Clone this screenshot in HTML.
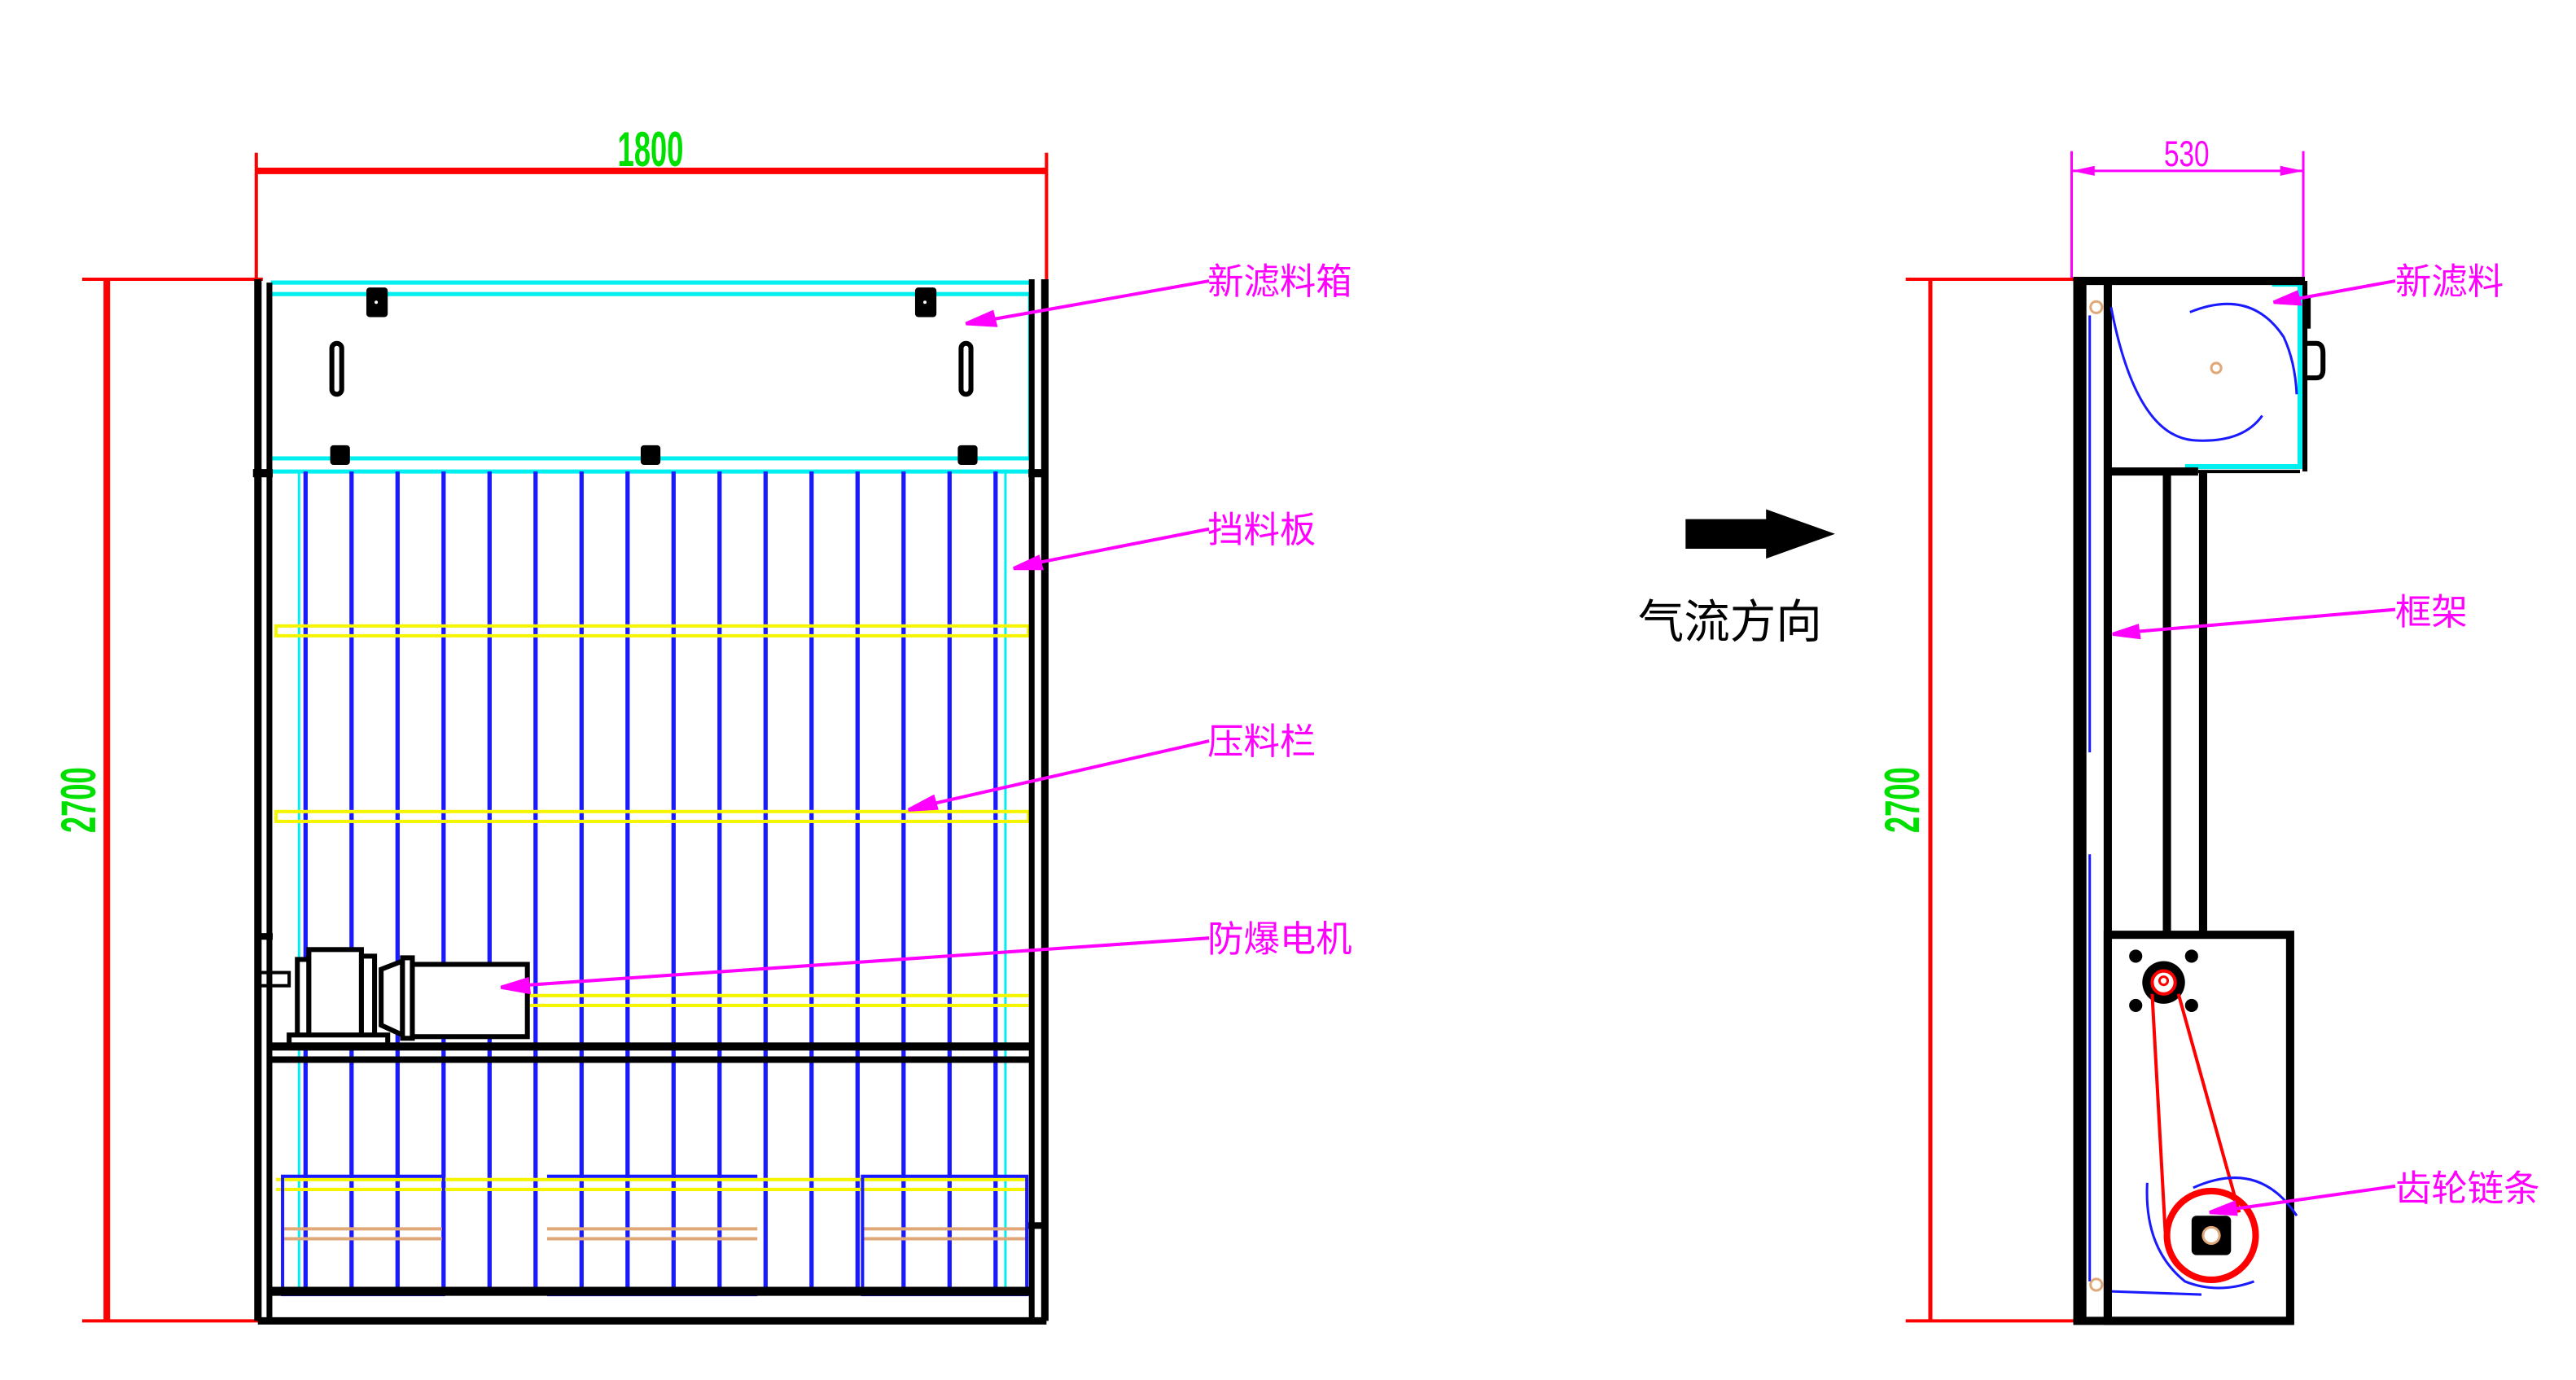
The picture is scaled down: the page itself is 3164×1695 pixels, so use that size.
<!DOCTYPE html>
<html><head><meta charset="utf-8"><style>
html,body{margin:0;padding:0;background:#fff;}
svg{display:block;}
.lbl{font-family:"Liberation Sans","Noto Sans CJK SC",sans-serif;fill:#ff00ff;font-size:22px;}
</style></head><body>
<svg width="3164" height="1695" viewBox="0 0 1568 840" preserveAspectRatio="none" xmlns="http://www.w3.org/2000/svg">
<rect width="1568" height="840" fill="#fff"/>
<g stroke="#f00" fill="none">
<line x1="156" y1="93" x2="156" y2="172" stroke-width="2"/>
<line x1="637" y1="93" x2="637" y2="172" stroke-width="2"/>
<line x1="156" y1="104" x2="637" y2="104" stroke-width="4"/>
<line x1="50" y1="170" x2="160" y2="170" stroke-width="2"/>
<line x1="50" y1="804" x2="160" y2="804" stroke-width="2"/>
<line x1="65" y1="170" x2="65" y2="804" stroke-width="4"/>
</g>
<text x="396" y="101" text-anchor="middle" font-family="Liberation Sans,sans-serif" font-weight="bold" font-size="30" fill="#00e000" transform="translate(396 0) scale(0.6 1) translate(-396 0)">1800</text>
<text x="0" y="0" text-anchor="middle" font-family="Liberation Sans,sans-serif" font-weight="bold" font-size="30" fill="#00e000" transform="translate(58 487) rotate(-90) scale(0.6 1)">2700</text>
<g stroke="#00f0f0" stroke-width="2.5" fill="none">
<line x1="165" y1="172" x2="628" y2="172"/>
<line x1="165" y1="179" x2="628" y2="179"/>
<line x1="165" y1="279" x2="627" y2="279"/>
<line x1="165" y1="287" x2="627" y2="287"/>
<line x1="627" y1="179" x2="627" y2="279"/>
<line x1="182" y1="287" x2="182" y2="786" stroke-width="1.5"/>
<line x1="612" y1="287" x2="612" y2="786" stroke-width="1.5"/>
</g>
<g stroke="#1a1aff" stroke-width="2.6">
<line x1="186" y1="287" x2="186" y2="788"/><line x1="214" y1="287" x2="214" y2="788"/>
<line x1="242" y1="287" x2="242" y2="788"/><line x1="270" y1="287" x2="270" y2="788"/>
<line x1="298" y1="287" x2="298" y2="788"/><line x1="326" y1="287" x2="326" y2="788"/>
<line x1="354" y1="287" x2="354" y2="788"/><line x1="382" y1="287" x2="382" y2="788"/>
<line x1="410" y1="287" x2="410" y2="788"/><line x1="438" y1="287" x2="438" y2="788"/>
<line x1="466" y1="287" x2="466" y2="788"/><line x1="494" y1="287" x2="494" y2="788"/>
<line x1="522" y1="287" x2="522" y2="788"/><line x1="550" y1="287" x2="550" y2="788"/>
<line x1="578" y1="287" x2="578" y2="788"/><line x1="606" y1="287" x2="606" y2="788"/>
</g>
<g stroke="#f5f500" stroke-width="2" fill="none">
<rect x="168" y="381" width="458" height="6"/>
<rect x="168" y="494" width="458" height="6"/>
<line x1="322" y1="606" x2="626" y2="606"/><line x1="322" y1="612" x2="626" y2="612"/>
<line x1="168" y1="718" x2="626" y2="718"/><line x1="168" y1="724" x2="626" y2="724"/>
</g>
<g stroke="#e0a878" stroke-width="2">
<line x1="172" y1="748" x2="270" y2="748"/><line x1="172" y1="754" x2="270" y2="754"/>
<line x1="333" y1="748" x2="461" y2="748"/><line x1="333" y1="754" x2="461" y2="754"/>
<line x1="525" y1="748" x2="626" y2="748"/><line x1="525" y1="754" x2="626" y2="754"/>
</g>
<g stroke="#1a1aff" stroke-width="2" fill="none">
<rect x="172" y="716" width="98" height="72"/>
<line x1="333" y1="716" x2="461" y2="716"/><line x1="333" y1="788" x2="461" y2="788"/>
<rect x="525" y="716" width="100" height="72"/>
</g>
<g stroke="#000" fill="none">
<line x1="157" y1="170" x2="157" y2="804" stroke-width="4.5"/>
<line x1="164" y1="172" x2="164" y2="804" stroke-width="3.5"/>
<line x1="628" y1="170" x2="628" y2="804" stroke-width="3.5"/>
<line x1="636" y1="170" x2="636" y2="804" stroke-width="4.5"/>
<line x1="157" y1="804" x2="637" y2="804" stroke-width="4.5"/>
<line x1="165" y1="786" x2="628" y2="786" stroke-width="5.5"/>
<line x1="165" y1="637" x2="628" y2="637" stroke-width="5"/>
<line x1="165" y1="645" x2="628" y2="645" stroke-width="4"/>
<line x1="154" y1="288" x2="166" y2="288" stroke-width="5"/>
<line x1="626" y1="288" x2="638" y2="288" stroke-width="5"/>
<line x1="155" y1="570" x2="166" y2="570" stroke-width="4"/>
<line x1="626" y1="746" x2="638" y2="746" stroke-width="4"/>
<rect x="158" y="592" width="18" height="8" stroke-width="2"/>
</g>
<g fill="#000">
<rect x="223" y="175" width="13" height="18" rx="2"/><rect x="557" y="175" width="13" height="18" rx="2"/>
<rect x="201" y="271" width="12" height="12" rx="2"/><rect x="390" y="271" width="12" height="12" rx="2"/><rect x="583" y="271" width="12" height="12" rx="2"/>
</g>
<g fill="#fff"><circle cx="229" cy="184" r="1"/><circle cx="563" cy="184" r="1"/></g>
<g fill="none" stroke="#000" stroke-width="3">
<rect x="202" y="209" width="6" height="31" rx="3"/><rect x="585" y="209" width="6" height="31" rx="3"/>
</g>
<g fill="#fff" stroke="#000" stroke-width="3">
<rect x="181" y="584" width="7" height="48"/>
<rect x="188" y="578" width="32" height="56"/>
<rect x="220" y="582" width="8" height="50"/>
<path d="M232 590 L245 585 L245 630 L232 624 Z"/>
<rect x="245" y="583" width="6" height="49"/>
<rect x="251" y="587" width="70" height="44"/>
<rect x="176" y="630" width="60" height="6"/>
</g>
<g stroke="#ff00ff" stroke-width="2" fill="#ff00ff">
<line x1="736" y1="171" x2="595" y2="196"/><path d="M588 197 L604 190 L606 198 Z"/>
<line x1="736" y1="322" x2="624" y2="344"/><path d="M617 346 L632 339 L634 346 Z"/>
<line x1="736" y1="451" x2="560" y2="491"/><path d="M553 493 L568 485 L570 492 Z"/>
<line x1="736" y1="571" x2="315" y2="600"/><path d="M305 601 L321 596 L322 604 Z"/>
</g>
<text class="lbl" x="735" y="179">新滤料箱</text>
<text class="lbl" x="735" y="330">挡料板</text>
<text class="lbl" x="735" y="459">压料栏</text>
<text class="lbl" x="735" y="579">防爆电机</text>
<path d="M1026 316 L1075 316 L1075 310 L1117 325 L1075 340 L1075 334 L1026 334 Z" fill="#000"/>
<text x="997" y="388" font-family="Liberation Sans,'Noto Sans CJK SC',sans-serif" font-size="28" fill="#000">气流方向</text>
<g stroke="#ff00ff" stroke-width="1.5">
<line x1="1261" y1="92" x2="1261" y2="170"/><line x1="1402" y1="92" x2="1402" y2="170"/>
<line x1="1261" y1="104" x2="1402" y2="104"/>
</g>
<path d="M1261 104 L1275 101 L1275 107 Z M1402 104 L1388 101 L1388 107 Z" fill="#ff00ff"/>
<text x="1331" y="101" text-anchor="middle" font-family="Liberation Sans,sans-serif" font-size="22" fill="#ff00ff" transform="translate(1331 0) scale(0.75 1) translate(-1331 0)">530</text>
<g stroke="#f00" fill="none">
<line x1="1160" y1="170" x2="1265" y2="170" stroke-width="2"/>
<line x1="1160" y1="804" x2="1265" y2="804" stroke-width="2"/>
<line x1="1175" y1="170" x2="1175" y2="804" stroke-width="2.5"/>
</g>
<text x="0" y="0" text-anchor="middle" font-family="Liberation Sans,sans-serif" font-weight="bold" font-size="30" fill="#00e000" transform="translate(1168 487) rotate(-90) scale(0.6 1)">2700</text>
<g stroke="#1a1aff" stroke-width="1.5">
<line x1="1272" y1="192" x2="1272" y2="458"/><line x1="1272" y1="520" x2="1272" y2="780"/>
<line x1="1283" y1="786" x2="1340" y2="788"/>
</g>
<g stroke="#00f0f0" stroke-width="3" fill="none">
<path d="M1383 173 L1400 173 L1400 284 L1330 284"/>
</g>
<g stroke="#000" fill="none">
<line x1="1266" y1="170" x2="1266" y2="804" stroke-width="8"/>
<line x1="1283" y1="170" x2="1283" y2="804" stroke-width="5"/>
<line x1="1262" y1="171" x2="1403" y2="171" stroke-width="5"/>
<line x1="1283" y1="287" x2="1338" y2="287" stroke-width="5"/>
<line x1="1403" y1="171" x2="1403" y2="287" stroke-width="3"/>
<line x1="1400" y1="287" x2="1338" y2="287" stroke-width="2"/>
<line x1="1319" y1="287" x2="1319" y2="568" stroke-width="5"/>
<line x1="1341" y1="287" x2="1341" y2="568" stroke-width="5"/>
<rect x="1283" y="569" width="111" height="235" stroke-width="5"/>
<line x1="1262" y1="804" x2="1396" y2="804" stroke-width="5"/>
<path d="M1404 209 L1410 209 Q1414 209 1414 215 L1414 225 Q1414 230 1410 230 L1404 230" stroke-width="3"/>
<line x1="1404" y1="180" x2="1404" y2="200" stroke-width="5"/>
</g>
<g stroke="#1a1aff" stroke-width="1.5" fill="none">
<path d="M1333 190 Q1370 175 1390 205 Q1397 220 1398 240"/>
<path d="M1285 187 Q1300 265 1335 268 Q1365 270 1377 253"/>
</g>
<circle cx="1349" cy="224" r="3" fill="none" stroke="#e0a878" stroke-width="1.5"/>
<circle cx="1276" cy="187" r="3.5" fill="#fff" stroke="#e0a878" stroke-width="1.5"/>
<circle cx="1276" cy="782" r="3.5" fill="#fff" stroke="#e0a878" stroke-width="1.5"/>
<g fill="#000">
<circle cx="1300" cy="582" r="4"/><circle cx="1334" cy="582" r="4"/>
<circle cx="1300" cy="612" r="4"/><circle cx="1334" cy="612" r="4"/>
<circle cx="1317" cy="598" r="13"/>
</g>
<circle cx="1317" cy="598" r="7" fill="#fff" stroke="#f00" stroke-width="2"/>
<circle cx="1317" cy="597" r="2.5" fill="none" stroke="#f00" stroke-width="1.5"/>
<g stroke="#f00" stroke-width="2" fill="none">
<line x1="1310" y1="605" x2="1318" y2="750"/>
<line x1="1326" y1="605" x2="1363" y2="738"/>
<circle cx="1346" cy="752" r="27" stroke-width="4"/>
</g>
<rect x="1334" y="740" width="24" height="24" rx="3" fill="#000"/>
<circle cx="1346" cy="752" r="5" fill="#fff" stroke="#e0a878" stroke-width="1.5"/>
<g stroke="#1a1aff" stroke-width="1.5" fill="none">
<path d="M1335 723 Q1375 705 1398 740"/>
<path d="M1307 720 Q1305 760 1330 780 Q1350 788 1372 780"/>
</g>
<g stroke="#ff00ff" stroke-width="2" fill="#ff00ff">
<line x1="1458" y1="171" x2="1392" y2="183"/><path d="M1384 184 L1398 178 L1400 185 Z"/>
<line x1="1458" y1="371" x2="1294" y2="385"/><path d="M1286 386 L1301 381 L1302 388 Z"/>
<line x1="1458" y1="722" x2="1352" y2="737"/><path d="M1345 738 L1360 732 L1361 739 Z"/>
</g>
<text class="lbl" x="1458" y="179">新滤料</text>
<text class="lbl" x="1458" y="380">框架</text>
<text class="lbl" x="1458" y="731">齿轮链条</text>
</svg>
</body></html>
